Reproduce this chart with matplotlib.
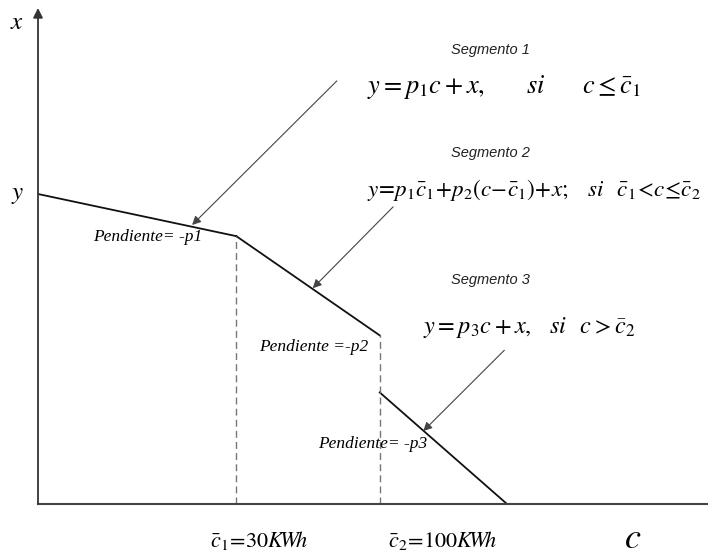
import matplotlib
matplotlib.use('Agg')
import matplotlib.pyplot as plt

plt.rcParams['mathtext.fontset'] = 'stix'

# schematic tariff curve (arbitrary drawing units)
c_knots = [0.0, 2.96, 5.1, 7.0]
seg1_y = [6.25, 5.4]
seg2_y = [5.4, 3.4]
seg3_y = [2.25, 0.0]

slope_labels = ['Pendiente= -p1', 'Pendiente =-p2', 'Pendiente= -p3']
segment_titles = ['Segmento 1', 'Segmento 2', 'Segmento 3']
equations = [
    r'$y = p_1 c + x,\qquad si\qquad c \leq \bar{c}_1$',
    r'$y\!=\!p_1\bar{c}_1\!+\!p_2(c\!-\!\bar{c}_1)\!+\!x;\quad si\;\;\;\bar{c}_1\!<\!c\!\leq\!\bar{c}_2$',
    r'$y = p_3 c + x,\;\;\; si\;\;\; c > \bar{c}_2$',
]
break_labels = [r'$\bar{c}_1 \!=\! 30K\!W\!h$', r'$\bar{c}_2 \!=\! 100K\!W\!h$']

fig = plt.figure(figsize=(7.08, 5.57), dpi=100)
ax = fig.add_axes([38 / 708, 53 / 557, 670 / 708, 496 / 557])
ax.set_xlim(0, 10)
ax.set_ylim(0, 10)
for s in ['top', 'right', 'left']:
    ax.spines[s].set_visible(False)
ax.spines['bottom'].set_color('#444444')
ax.spines['bottom'].set_linewidth(1.5)
ax.set_xticks([])
ax.set_yticks([])

# vertical axis with arrow
ax.annotate('', xy=(0, 10), xytext=(0, 0), annotation_clip=False,
            arrowprops=dict(arrowstyle='-|>', color='#333333', lw=1.3, mutation_scale=14, shrinkA=0, shrinkB=0))

# the three segments
ax.plot(c_knots[0:2], seg1_y, color='#111111', lw=1.3)
ax.plot(c_knots[1:3], seg2_y, color='#111111', lw=1.3)
ax.plot([c_knots[2], c_knots[3]], seg3_y, color='#111111', lw=1.3)
# dashed guides at the breakpoints
ax.plot([c_knots[1], c_knots[1]], [0, seg1_y[1]], color='#777777', lw=1, ls=(0, (5, 3)))
ax.plot([c_knots[2], c_knots[2]], [0, seg2_y[1]], color='#777777', lw=1, ls=(0, (5, 3)))

# axis letters
ax.text(-0.31, 9.72, r'$x$', fontsize=18, ha='center', va='center')
ax.text(-0.31, seg1_y[0], r'$y$', fontsize=18, ha='center', va='center')
ax.text(8.87, -0.68, r'$c$', fontsize=26, ha='center', va='center')

# breakpoint labels
ax.text(2.57, -0.73, break_labels[0], fontsize=16, ha='left', va='center')
ax.text(5.22, -0.73, break_labels[1], fontsize=16, ha='left', va='center')

# slope labels
pfont = dict(family='Liberation Serif', style='italic', fontsize=12.5, ha='center', va='center')
ax.text(1.64, 5.38, slope_labels[0], **pfont)
ax.text(4.12, 3.17, slope_labels[1], **pfont)
ax.text(4.99, 1.21, slope_labels[2], **pfont)

# segment titles and equations
sfont = dict(family='Liberation Sans', style='italic', fontsize=10.5, ha='center', va='center', color='#222222')
ax.text(6.75, 9.15, segment_titles[0], **sfont)
ax.text(6.75, 7.08, segment_titles[1], **sfont)
ax.text(6.75, 4.52, segment_titles[2], **sfont)

ax.text(4.91, 8.40, equations[0], fontsize=19, ha='left', va='center')
ax.text(4.91, 6.33, equations[1], fontsize=16.6, ha='left', va='center')
ax.text(5.75, 3.56, equations[2], fontsize=17.5, ha='left', va='center')

# pointer arrows
aprops = dict(arrowstyle='-|>', color='#444444', lw=0.8, mutation_scale=13,
              shrinkA=0, shrinkB=0)
ax.annotate('', xy=(2.30, 5.625), xytext=(4.46, 8.53), arrowprops=aprops)
ax.annotate('', xy=(4.10, 4.35), xytext=(5.30, 5.99), arrowprops=aprops)
ax.annotate('', xy=(5.75, 1.47), xytext=(6.96, 3.10), arrowprops=aprops)

fig.savefig('out.png', dpi=100)
